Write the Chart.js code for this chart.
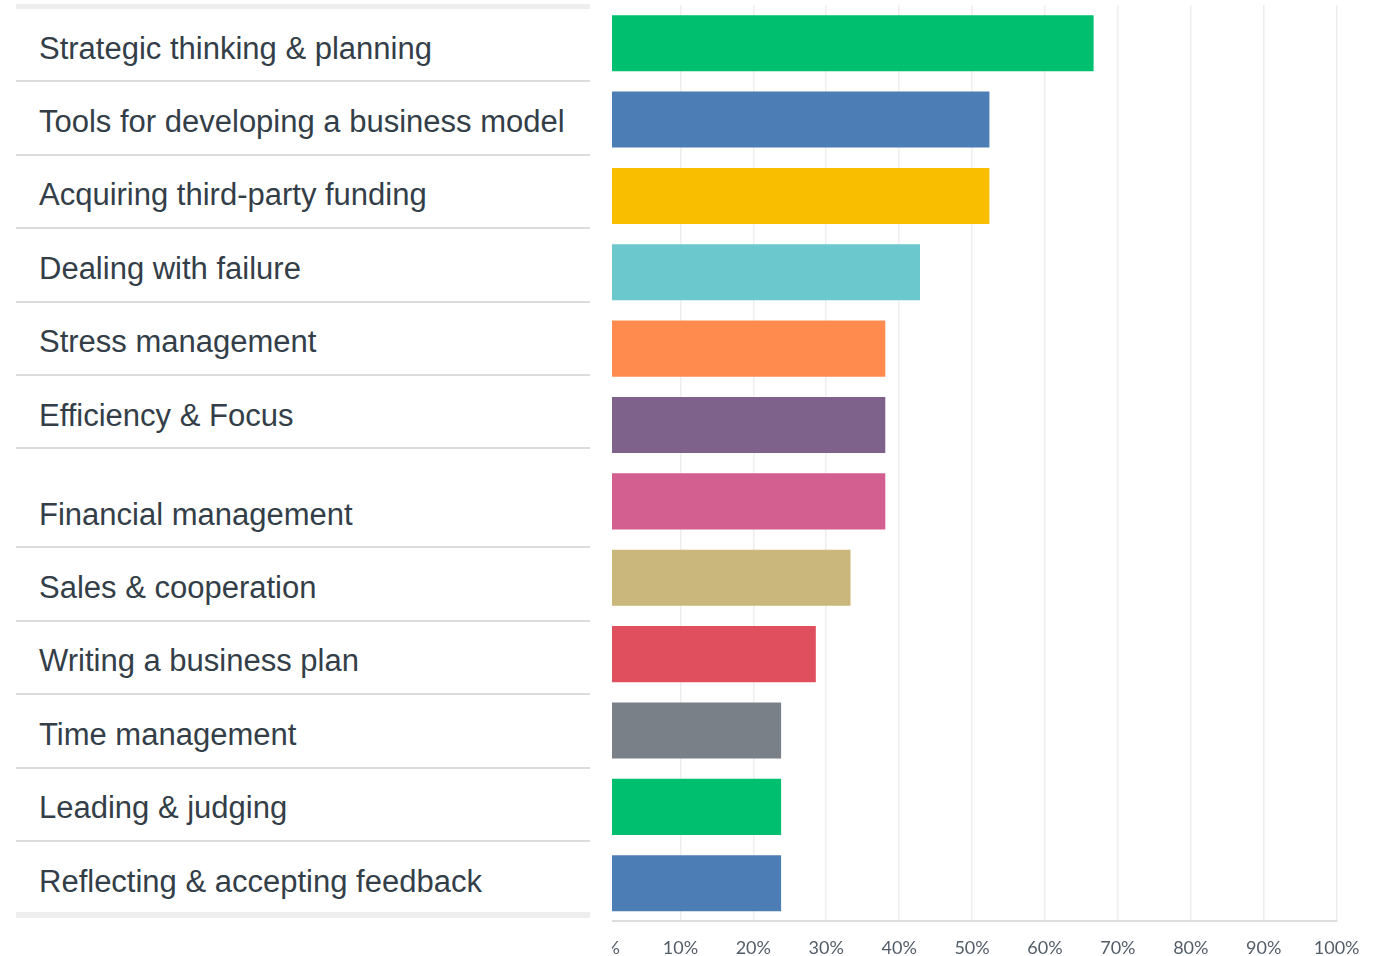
<!DOCTYPE html>
<html>
<head>
<meta charset="utf-8">
<script src="https://cdn.jsdelivr.net/npm/chart.js@4.4.1/dist/chart.umd.min.js"></script>
<style>
  html, body { margin: 0; padding: 0; background: #fff; overflow: hidden; }
  body { width: 1375px; height: 956px; position: relative; }
  #labels {
    position: absolute; left: 16px; top: 4px; width: 574px;
    border-top: 5px solid #eeeeee;
    font-family: "Liberation Sans", Arial, sans-serif;
    font-size: 31px; color: #333e48;
  }
  .row {
    height: 71.4px; border-bottom: 2px solid #dcdcdc;
    display: flex; align-items: flex-end; box-sizing: content-box;
  }
  .row span { line-height: 31px; padding: 0 0 16.8px 23px; white-space: nowrap; }
  .row.tall { height: 97px; }
  .row.last { height: 70px; border-bottom: 6px solid #eeeeee; }
  .row.last span { padding-bottom: 15.3px; }
  #chartWrap {
    position: absolute; left: 612px; top: 0; width: 763px; height: 956px; overflow: hidden;
  }
  #canvasBox { position: absolute; left: -33.5px; top: 0; width: 796.5px; height: 975px; }
</style>
</head>
<body>
<div id="labels"></div>
<div id="chartWrap"><div id="canvasBox"><canvas id="c"></canvas></div></div>
<script>
const categories = [
  "Strategic thinking & planning",
  "Tools for developing a business model",
  "Acquiring third-party funding",
  "Dealing with failure",
  "Stress management",
  "Efficiency & Focus",
  "Financial management",
  "Sales & cooperation",
  "Writing a business plan",
  "Time management",
  "Leading & judging",
  "Reflecting & accepting feedback"
];
const values = [66.67, 52.38, 52.38, 42.86, 38.10, 38.10, 38.10, 33.33, 28.57, 23.81, 23.81, 23.81];
const barColors = ["#00BF6F", "#4C7DB5", "#F9BE00", "#6BC8CD", "#FF8B4F", "#7F628B",
                   "#D25F90", "#C9B77B", "#DF4F5D", "#7A8088", "#00BF6F", "#4C7DB5"];
const xTicks = [0, 10, 20, 30, 40, 50, 60, 70, 80, 90, 100];

// left label table
const lab = document.getElementById('labels');
categories.forEach((c, i) => {
  const r = document.createElement('div');
  r.className = 'row' + (c === "Financial management" ? ' tall' : '') + (i === categories.length - 1 ? ' last' : '');
  const s = document.createElement('span');
  s.textContent = c;
  r.appendChild(s);
  lab.appendChild(r);
});

new Chart(document.getElementById('c'), {
  type: 'bar',
  data: {
    labels: categories,
    datasets: [{
      data: values,
      backgroundColor: barColors,
      borderWidth: 0,
      barPercentage: 0.734,
      categoryPercentage: 1
    }]
  },
  options: {
    indexAxis: 'y',
    responsive: true,
    maintainAspectRatio: false,
    animation: false,
    layout: { padding: { left: 28.5, right: 38.5, top: 5, bottom: 0 } },
    plugins: { legend: { display: false }, tooltip: { enabled: false } },
    scales: {
      y: { display: false },
      x: {
        min: 0, max: 100,
        afterBuildTicks: (axis) => { axis.ticks = xTicks.map(v => ({ value: v })); },
        grid: { color: '#eeeeee', lineWidth: 1.5, drawTicks: false },
        border: { color: '#dddddd', width: 2 },
        ticks: {
          padding: 16,
          color: '#535d68',
          font: { family: 'Lato', size: 18 },
          callback: (v) => v + '%'
        }
      }
    }
  }
});
</script>
</body>
</html>
